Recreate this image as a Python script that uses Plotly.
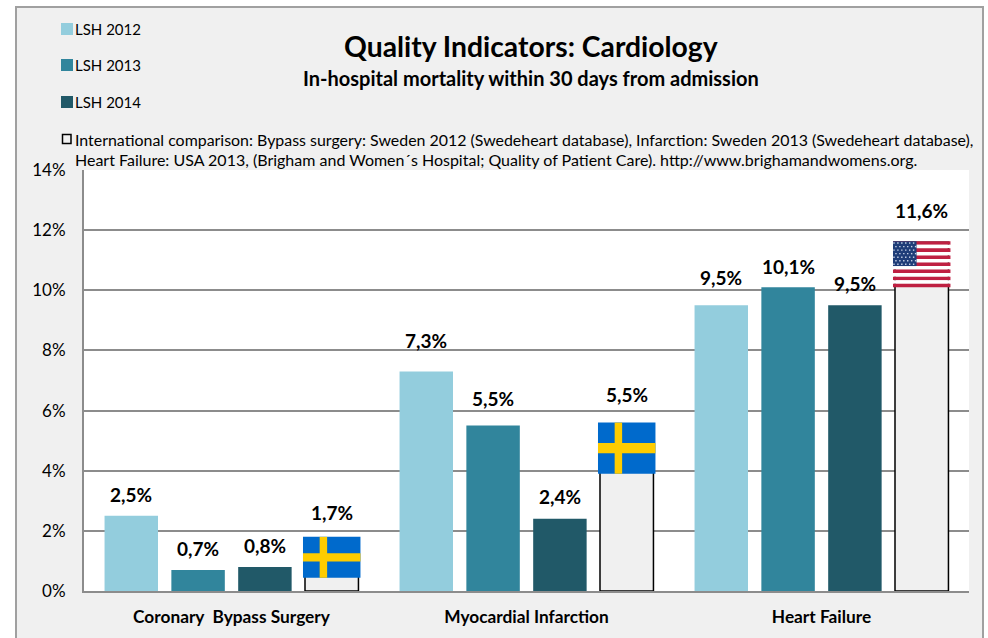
import plotly.graph_objects as go

categories = ["Coronary  Bypass Surgery", "Myocardial Infarction", "Heart Failure"]
series_names = ["LSH 2012", "LSH 2013", "LSH 2014"]
lsh_2012 = [2.5, 7.3, 9.5]
lsh_2013 = [0.7, 5.5, 10.1]
lsh_2014 = [0.8, 2.4, 9.5]
international = [1.7, 5.5, 11.6]
comparison_flags = ["SE", "SE", "US"]
tick_values = [0, 2, 4, 6, 8, 10, 12, 14]
tick_labels = ["0%", "2%", "4%", "6%", "8%", "10%", "12%", "14%"]
title = "Quality Indicators: Cardiology"
subtitle = "In-hospital mortality within 30 days from admission"
intl_line1 = "International comparison: Bypass surgery: Sweden 2012 (Swedeheart database), Infarction: Sweden 2013 (Swedeheart database),"
intl_line2 = "Heart Failure: USA 2013, (Brigham and Women´s Hospital; Quality of Patient Care). http://www.brighamandwomens.org."

# styling
W, H = 988, 638
L, R, T, B = 84, 969, 170, 591
FONT = "Lato"
colors = ["#93CDDD", "#31859C", "#215968"]
panel = "#F0F0F0"
grid = "#8C8C8C"
BARGAP, GROUPGAP = 0.094, 0.2
STEP = (1 - BARGAP) / 4
label_shift = [[21, 21, 21, 27], [31, 27, 22, 31], [28, 21, 22, 32]]
flag_heights = [1.36, 1.7, 1.53]     # axis units
flag_overhang = [0.1, 0.1, 0.03]     # axis units above the bar top
PX_X = 3 / (R - L)                   # one pixel in x-axis units
PX_Y = 14 / (B - T)                  # one pixel in y-axis units

def px(x): return (x - L) / (R - L)
def py(y): return (B - y) / (B - T)

all_series = [lsh_2012, lsh_2013, lsh_2014, international]
xs = list(range(len(categories)))
fig = go.Figure()
for i, (vals, c) in enumerate(zip(all_series[:3], colors)):
    fig.add_bar(x=xs, y=vals, name=series_names[i], marker=dict(color=c, line=dict(width=0)), showlegend=False)
fig.add_bar(x=xs, y=international, name="International comparison",
            marker=dict(color=panel, line=dict(color="#000000", width=1.5)), showlegend=False)

shapes, annotations = [], []
# panel behind the plot, and white plot area on top of it
shapes.append(dict(type="rect", xref="paper", yref="paper", layer="below",
                   x0=px(16), x1=px(983), y0=py(640), y1=py(7),
                   fillcolor=panel, line=dict(color="#A0A0A0", width=2)))
shapes.append(dict(type="rect", xref="paper", yref="paper", layer="below",
                   x0=0, x1=1, y0=0, y1=1, fillcolor="#FFFFFF", line=dict(width=0)))

def rect(x0, x1, y0, y1, c):
    shapes.append(dict(type="rect", xref="x", yref="y", x0=x0, x1=x1, y0=y0, y1=y1,
                       fillcolor=c, line=dict(width=0), layer="above"))

for k, (flag, v) in enumerate(zip(comparison_flags, international)):
    cx = k + 1.5 * STEP
    half = STEP * 0.43
    top = v + flag_overhang[k]
    h = flag_heights[k]
    if flag == "SE":
        rect(cx - half, cx + half, top - h, top, "#006ACC")
        rect(cx - half * 0.42, cx - half * 0.16, top - h, top, "#FECC00")
        rect(cx - half, cx + half, top - h * 0.60, top - h * 0.40, "#FECC00")
    else:
        for s in range(13):
            rect(cx - half, cx + half, top - h * (s + 1) / 13, top - h * s / 13,
                 "#BF2042" if s % 2 == 0 else "#FFFFFF")
        rect(cx - half, cx - half * 0.18, top - h * 7 / 13, top, "#1F3D78")
        for r in range(7):
            for q in range(6):
                sx = cx - half + (q + 0.5 + (0.25 if r % 2 else -0.25)) / 6 * half * 0.82
                sy = top - (r + 0.5) / 7 * h * 7 / 13
                rect(sx - PX_X * 0.7, sx + PX_X * 0.7, sy - PX_Y * 0.7, sy + PX_Y * 0.7, "#C8D2E6")

# data labels
for j, vals in enumerate(all_series):
    for k, v in enumerate(vals):
        annotations.append(dict(x=k + (j - 1.5) * STEP, y=v, yshift=label_shift[k][j], yanchor="middle",
                                xanchor="center", showarrow=False, text=f"{v:.1f}%".replace(".", ","),
                                font=dict(family=FONT, size=19, color="#000000", weight="bold")))

def text(x, y, s, size, anchor="left", bold=False):
    annotations.append(dict(xref="paper", yref="paper", x=px(x), y=py(y), text=s, showarrow=False,
                            xanchor=anchor, yanchor="middle",
                            font=dict(family=FONT, size=size, color="#000000", weight="bold" if bold else "normal")))

text(531, 46, title, 28.3, "center", True)
text(530.5, 78, subtitle, 20, "center", True)

for name, c, y in zip(series_names, colors, [29, 65, 102]):
    shapes.append(dict(type="rect", xref="paper", yref="paper", x0=px(61), x1=px(73), y0=py(y + 6), y1=py(y - 6),
                       fillcolor=c, line=dict(width=0)))
    text(73, y, name, 15)
shapes.append(dict(type="rect", xref="paper", yref="paper", x0=px(62.5), x1=px(71), y0=py(143.5), y1=py(134.5),
                   fillcolor=panel, line=dict(color="#000000", width=1.5)))
text(73, 139, intl_line1, 15.93)
text(73, 160, intl_line2, 16)

fig.update_layout(
    width=W, height=H, autosize=False, barmode="group", bargap=BARGAP, bargroupgap=GROUPGAP,
    margin=dict(l=L, r=W - R, t=T, b=H - B), paper_bgcolor="#FFFFFF", plot_bgcolor="#FFFFFF",
    showlegend=False, shapes=shapes, annotations=annotations,
    font=dict(family=FONT, color="#000000"),
    xaxis=dict(range=[-0.5, 2.5], tickmode="array", tickvals=xs, ticktext=categories, showgrid=False,
               ticks="", zeroline=False, showline=True, linecolor=grid, linewidth=2, ticklabelstandoff=9,
               tickfont=dict(family=FONT, size=17.3, color="#000000", weight="bold")),
    yaxis=dict(range=[0, 14], tickmode="array", tickvals=tick_values, ticktext=tick_labels,
               showgrid=True, gridcolor=grid, gridwidth=1.5, zeroline=False, showline=True, linecolor=grid,
               linewidth=2, ticks="", ticklabelstandoff=13, tickfont=dict(family=FONT, size=17, color="#000000")),
)
fig.write_html("out.html", post_script="document.body.style.margin='0';", config=dict(displayModeBar=False))
